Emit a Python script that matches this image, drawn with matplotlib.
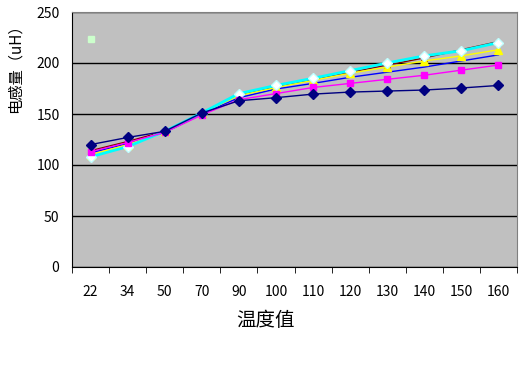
import matplotlib
matplotlib.use('Agg')
import matplotlib.pyplot as plt
import numpy as np

plt.rcParams['font.family'] = ['Noto Sans CJK SC', 'DejaVu Sans']

# 温度值 (类别)
温度 = ['22', '34', '50', '70', '90', '100', '110', '120', '130', '140', '150', '160']

# 各组电感量数据 (uH)
s_navy = [120, 127, 133, 151, 163, 166, 169.5, 171.5, 172.5, 173.5, 175.5, 178]
s_magenta = [113, 122, 132, 149, 164, 170, 176, 180, 184, 188, 193, 198]
s_yellow = [110, 120, 133, 151, 168, 176, 183, 190, 196, 202, 207, 213]
s_blue = [112, 121, 132, 150, 166, 174.5, 180, 186, 191, 196, 202, 208]
s_darkred = [114, 123, 133, 151, 169, 177, 184, 191, 198, 205, 213, 221]
s_cyan = [108, 118, 133, 151, 170, 178, 185, 192.5, 200, 207, 212, 220]
s_green = [224]  # 只有 22 处一个点

x = np.arange(len(温度))

fig = plt.figure(figsize=(5.28, 3.84), dpi=100)
ax = fig.add_axes([72/528, 1-267/384, (517-72)/528, (267-12)/384])
ax.set_facecolor('#C0C0C0')

ax.plot(x, s_darkred, color='#800000', lw=1, marker='^', ms=5, mfc='#800000', mec='#800000', zorder=3)
ax.plot(x, s_blue, color='#0000FF', lw=1, zorder=3)
ax.plot(x, s_yellow, color='#FFFF00', lw=1, marker='^', ms=6, mfc='#FFFF00', mec='#FFFF00', zorder=3)
ax.plot(x, s_cyan, color='#00FFFF', lw=2, marker='D', ms=5, mfc='white', mec='#C0FFFF', zorder=4)
ax.plot(x, s_magenta, color='#FF00FF', lw=1, marker='s', ms=5, mfc='#FF00FF', mec='#FF00FF', zorder=5)
ax.plot(x, s_navy, color='#000080', lw=1, marker='D', ms=5, mfc='#000080', mec='#000080', zorder=6)
ax.plot(x[:len(s_green)], s_green, ls='none', marker='s', ms=5, mfc='#CCFFCC', mec='#CCFFCC', zorder=6)

ax.set_xlim(-0.5, len(温度) - 0.5)
ax.set_ylim(0, 250)
ax.set_yticks([0, 50, 100, 150, 200, 250])
ax.yaxis.grid(True, color='black', lw=1)
ax.set_axisbelow(True)
ax.tick_params(axis='y', length=0, labelsize=10, pad=9)

ax.set_xticks(x)
ax.set_xticklabels(温度, fontsize=10)
ax.set_xticks(np.arange(-0.5, len(温度)), minor=True)
ax.tick_params(axis='x', which='major', length=0, pad=13)
ax.tick_params(axis='x', which='minor', length=4, direction='out', color='black')

for side in ['top', 'right']:
    ax.spines[side].set_color('#808080')
for side in ['left', 'bottom']:
    ax.spines[side].set_color('black')

fig.text(15/528, 1-65/384, '电感量（uH）', rotation=90, ha='center', va='center', fontsize=11)
fig.text(265/528, 1-321/384, '温度值', ha='center', va='center', fontsize=14)

fig.savefig('out.png', dpi=100, facecolor='white')
